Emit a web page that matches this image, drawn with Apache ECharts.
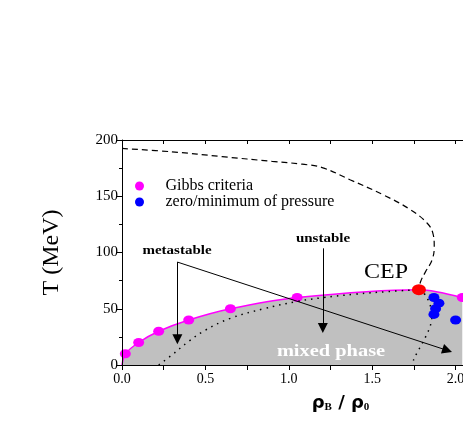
<!DOCTYPE html>
<html>
<head>
<meta charset="utf-8">
<script src="https://cdn.jsdelivr.net/npm/echarts@6/dist/echarts.min.js"></script>
<style>
  html, body { margin: 0; padding: 0; background: #fff; }
  #phase { width: 463px; height: 436px; }
</style>
</head>
<body>
<div id="phase"></div>
<script>
// Gibbs criteria points (rho_B/rho_0, T MeV); first point and CEP carry no marker
var gibbsPts = [[0, 0], [0.02, 10], [0.10, 20], [0.22, 30], [0.40, 40], [0.65, 50], [1.05, 60], [1.78, 67], [2.04, 60]];
var gibbsNoMarker = [0, 7];
// zero / minimum of pressure
var pressurePts = [[1.87, 60], [1.90, 55], [1.88, 50], [1.87, 45], [2.00, 40]];
var cepPt = [[1.78, 67]];
// dashed curve
var dashedCurve = [[0, 192.5], [0.3, 189.5], [0.6, 185.2], [0.9, 181], [1.08, 178.5], [1.2, 175.5], [1.37, 164.5],
  [1.57, 151], [1.73, 138], [1.83, 126], [1.864, 117], [1.872, 105], [1.858, 93], [1.82, 83], [1.79, 74], [1.78, 67]];
// dotted (spinodal) curves
var dottedLeft = [[0.22, 0], [0.3, 9], [0.4, 21], [0.5, 31], [0.65, 41.5], [0.85, 50], [1.05, 56.5], [1.2, 59.8],
  [1.4, 63], [1.6, 65.3], [1.78, 67]];
var dottedRight = [[1.78, 67], [1.82, 62], [1.85, 52], [1.858, 43], [1.748, 4.4], [1.735, 0]];
// annotation arrows
var arrowSegs = [
  [[0.332, 91.5], [0.332, 23]],
  [[0.332, 91.5], [1.95, 13]],
  [[1.204, 103.7], [1.204, 33]]
];

var serif = 'Liberation Serif';
var myChart = echarts.init(document.getElementById('phase'));

var option = {
  animation: false,
  grid: { left: 122, top: 140, bottom: 71, right: -76, outerBoundsMode: 'none', containLabel: false },
  legend: {
    orient: 'vertical',
    left: 130,
    top: 173,
    icon: 'circle',
    itemWidth: 42,
    itemHeight: 9,
    itemGap: 0,
    data: ['Gibbs criteria', 'zero/minimum of pressure'],
    textStyle: { fontFamily: serif, fontSize: 16, color: '#000' }
  },
  xAxis: [
    {
      type: 'value', min: 0, max: 2.5, interval: 0.5, z: 10,
      name: '{r|ρ}{s|B}{r| / ρ}{s|0}',
      nameLocation: 'middle', nameGap: 29,
      nameTextStyle: {
        padding: [0, 0, 0, 20],
        rich: {
          r: { fontFamily: 'DejaVu Sans', fontWeight: 'bold', fontSize: 18, color: '#000' },
          s: { fontFamily: serif, fontWeight: 'bold', fontSize: 11, color: '#000', padding: [8, 0, 0, 0] }
        }
      },
      axisLine: { lineStyle: { color: '#000', width: 1 } },
      axisTick: { inside: false, length: 5, lineStyle: { color: '#000' } },
      minorTick: { show: true, splitNumber: 2, length: 5, lineStyle: { color: '#000' } },
      splitLine: { show: false },
      axisLabel: {
        fontFamily: serif, fontSize: 14, color: '#000', margin: 7,
        formatter: function (v) { return v.toFixed(1); }
      }
    },
    {
      type: 'value', position: 'top', min: 0, max: 2.5, interval: 0.5, z: 10,
      axisLine: { show: true, lineStyle: { color: '#000', width: 1 } },
      axisTick: { inside: true, length: 4, lineStyle: { color: '#000' } },
      minorTick: { show: true, splitNumber: 2, length: 4, lineStyle: { color: '#000' } },
      splitLine: { show: false },
      axisLabel: { show: false }
    }
  ],
  yAxis: {
    type: 'value', min: 0, max: 200, interval: 50, z: 10,
    name: 'T (MeV)',
    nameLocation: 'middle', nameGap: 58,
    nameTextStyle: { fontFamily: serif, fontSize: 24, color: '#000' },
    axisLine: { show: true, lineStyle: { color: '#000', width: 1 } },
    axisTick: { inside: false, length: 5, lineStyle: { color: '#000' } },
    minorTick: { show: true, splitNumber: 2, length: 3, lineStyle: { color: '#000' } },
    splitLine: { show: false },
    axisLabel: { fontFamily: serif, fontSize: 15, color: '#000', margin: 4 }
  },
  series: [
    {
      name: 'Gibbs criteria',
      type: 'line',
      smooth: 0.3,
      symbol: 'circle',
      symbolSize: [11, 9],
      data: gibbsPts.map(function (p, i) {
        return gibbsNoMarker.indexOf(i) >= 0 ? { value: p, symbol: 'none' } : p;
      }),
      itemStyle: { color: '#ff00ff' },
      lineStyle: { color: '#ff00ff', width: 1.5 },
      areaStyle: { color: '#c0c0c0', opacity: 1 },
      z: 2
    },
    {
      name: 'dashed',
      type: 'line',
      smooth: 0.4,
      symbol: 'none',
      data: dashedCurve,
      lineStyle: { color: '#000', width: 1.2, type: [6, 4] },
      z: 3
    },
    {
      name: 'dotted left',
      type: 'line',
      smooth: 0.4,
      symbol: 'none',
      data: dottedLeft,
      lineStyle: { color: '#000', width: 1.5, type: [1.5, 5] },
      z: 3
    },
    {
      name: 'dotted right',
      type: 'line',
      smooth: 0.3,
      symbol: 'none',
      data: dottedRight,
      lineStyle: { color: '#000', width: 1.5, type: [1.5, 5] },
      z: 3
    },
    {
      name: 'arrows',
      type: 'lines',
      coordinateSystem: 'cartesian2d',
      symbol: ['none', 'triangle'],
      symbolSize: [12, 10],
      lineStyle: { color: '#000', width: 1, opacity: 1 },
      data: arrowSegs.map(function (s) { return { coords: s }; }),
      z: 4
    },
    {
      name: 'zero/minimum of pressure',
      type: 'scatter',
      symbol: 'circle',
      symbolSize: [11, 9],
      data: pressurePts,
      itemStyle: { color: '#0000ff', opacity: 1 },
      z: 5
    },
    {
      name: 'CEP',
      type: 'scatter',
      symbol: 'circle',
      symbolSize: [14, 11],
      data: cepPt,
      itemStyle: { color: '#ff0000', opacity: 1 },
      z: 6
    }
  ],
  graphic: [
    { type: 'text', x: 177, y: 251, scaleX: 1.2, z: 20,
      style: { text: 'metastable', font: 'bold 12.5px "Liberation Serif"', fill: '#000', align: 'center', verticalAlign: 'middle' } },
    { type: 'text', x: 323, y: 239, scaleX: 1.2, z: 20,
      style: { text: 'unstable', font: 'bold 12.5px "Liberation Serif"', fill: '#000', align: 'center', verticalAlign: 'middle' } },
    { type: 'text', x: 386, y: 273, scaleX: 1.2, z: 20,
      style: { text: 'CEP', font: '20px "Liberation Serif"', fill: '#000', align: 'center', verticalAlign: 'middle' } },
    { type: 'text', x: 331, y: 352, scaleX: 1.2, z: 20,
      style: { text: 'mixed phase', font: 'bold 17px "Liberation Serif"', fill: '#fff', align: 'center', verticalAlign: 'middle' } }
  ]
};

myChart.setOption(option);
</script>
</body>
</html>
